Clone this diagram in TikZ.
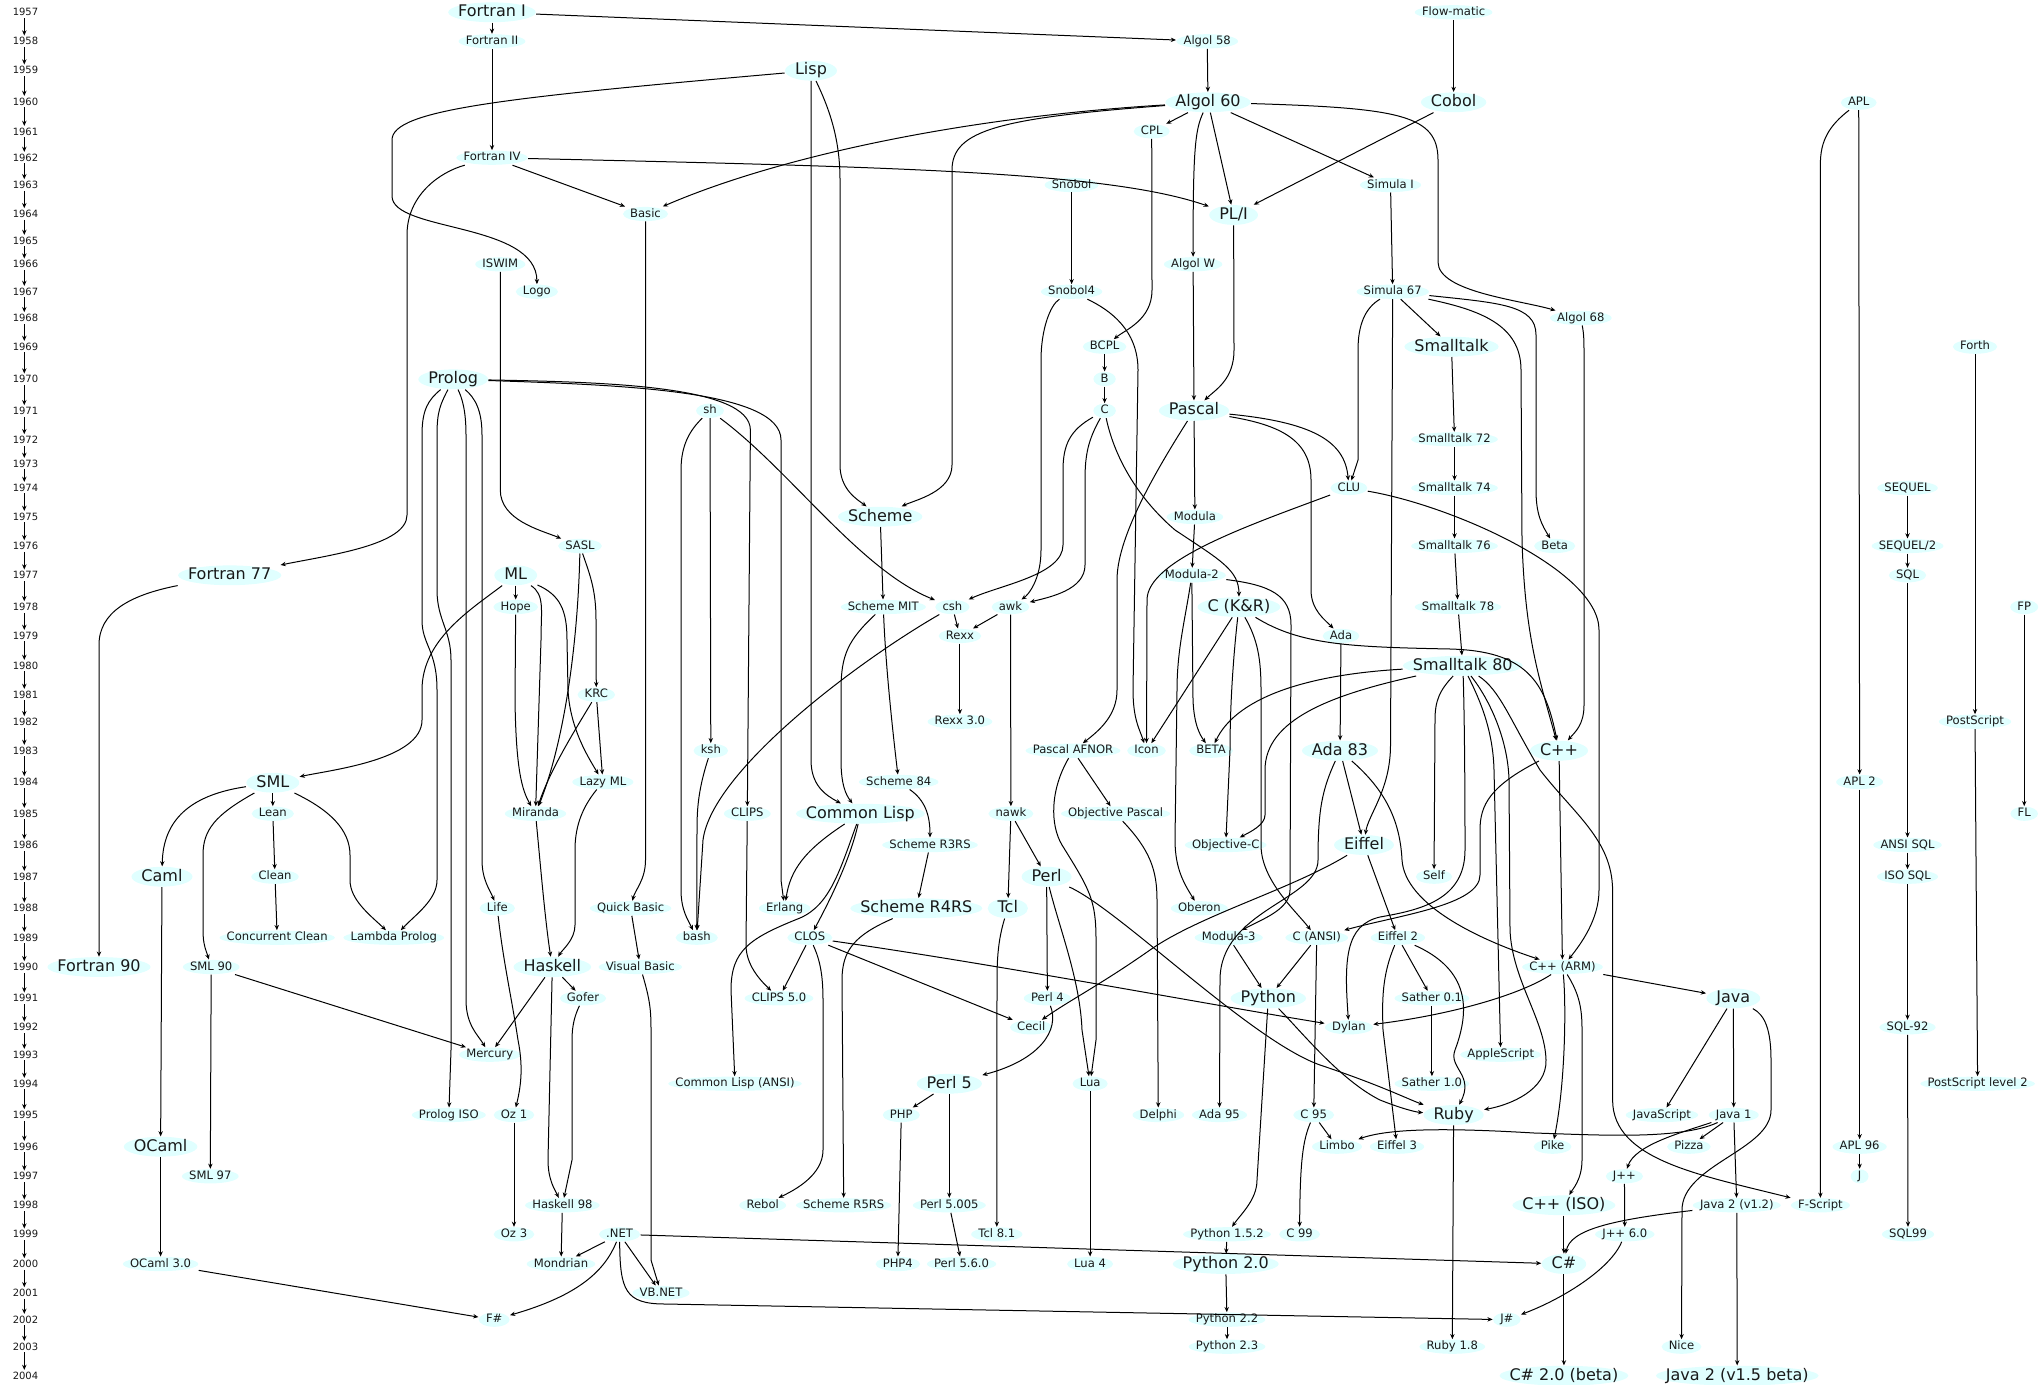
\documentclass[tikz,border=0pt]{standalone}
\usepackage{fontspec}
\setmainfont{DejaVu Sans}
\usetikzlibrary{arrows.meta,calc}
\definecolor{nodefill}{RGB}{224,255,255}
\definecolor{ink}{RGB}{25,25,25}

\tikzset{
  lang/.style={rectangle, text=ink,
    path picture={\fill[nodefill] let \p1=(path picture bounding box.south west),
      \p2=(path picture bounding box.north east) in
      (path picture bounding box.center) ellipse [x radius={(\x2-\x1)/2}, y radius={(\y2-\y1)/2}];}},
  sm/.style={lang, font=\fontsize{5.8}{7}\selectfont, text height=4.3pt, text depth=1.2pt,
    inner xsep=3.6pt, inner ysep=0.8pt},
  lg/.style={lang, font=\fontsize{8}{9.6}\selectfont, text height=6pt, text depth=1.7pt,
    inner xsep=5pt, inner ysep=1.1pt},
  yr/.style={font=\fontsize{5}{6}\selectfont, text=ink, inner sep=0.8pt},
  e/.style={draw=black, line width=0.5pt, -{Stealth[length=2.6pt,width=2.2pt]}},
}

\begin{document}
\begin{tikzpicture}[x=0.5pt,y=-0.5pt]
\fill[white] (0,0) rectangle (2043,1385);
\useasboundingbox (0,0) rectangle (2043,1385);

% ---------- time axis ----------
\foreach \yr/\yy in {1957/12.3,1958/41.3,1959/70.3,1960/101.7,1961/131.7,1962/157.7,
  1963/185,1964/214,1965/240.7,1966/264.3,1967/291.7,1968/318,1969/346.7,1970/379.3,
  1971/411,1972/440,1973/463.7,1974/487.7,1975/516.7,1976/546,1977/575.3,1978/607,
  1979/635.7,1980/665.7,1981/694.7,1982/722,1983/750.7,1984/782,1985/813.7,1986/845,
  1987/876.7,1988/908.3,1989/937.7,1990/967,1991/998.3,1992/1027.3,1993/1054.7,
  1994/1083.7,1995/1115,1996/1146.7,1997/1176.3,1998/1205.3,1999/1234.3,2000/1264,
  2001/1293,2002/1319.7,2003/1346.7,2004/1375.7}
  \node[yr] (y\yr) at (25.5,\yy) {\yr};
\foreach \yr in {1957,...,2003}{
  \pgfmathtruncatemacro{\nx}{\yr+1}
  \draw[e] ([xshift=-0.6pt]y\yr.south) -- ([xshift=-0.6pt]y\nx.north);
}

% ---------- languages ----------
\node[lg] (fortI) at (492,12.3) {Fortran I};
\node[sm] (flowmatic) at (1453.6,12.3) {Flow-matic};
\node[sm] (fortII) at (492,41.3) {Fortran II};
\node[sm] (algol58) at (1207.2,41.3) {Algol 58};
\node[lg] (lisp) at (811,70.7) {Lisp};
\node[lg] (algol60) at (1208,102.3) {Algol 60};
\node[lg] (cobol) at (1453.6,102.3) {Cobol};
\node[sm] (apl) at (1858.7,102.7) {APL};
\node[sm] (cpl) at (1151.7,131.3) {CPL};
\node[sm] (fortIV) at (492,157.7) {Fortran IV};
\node[sm] (snobol) at (1071.6,185) {Snobol};
\node[sm] (simulaI) at (1390.5,185) {Simula I};
\node[sm] (basic) at (645.5,214) {Basic};
\node[lg] (pli) at (1233.6,215) {PL/I};
\node[sm] (iswim) at (500.3,264.3) {ISWIM};
\node[sm] (algolw) at (1193.1,264.3) {Algol W};
\node[sm] (logo) at (536.9,291.7) {Logo};
\node[sm] (snobolIV) at (1071.6,291.7) {Snobol4};
\node[sm] (simula67) at (1392.7,291.7) {Simula 67};
\node[sm] (algol68) at (1580.8,318) {Algol 68};
\node[sm] (bcpl) at (1104.6,346.7) {BCPL};
\node[lg] (smalltalk) at (1451.5,346.7) {Smalltalk};
\node[sm] (forth) at (1975,346.7) {Forth};
\node[lg] (prolog) at (453.2,379.3) {Prolog};
\node[sm] (B) at (1104.6,379) {B};
\node[sm] (sh) at (710,410.7) {sh};
\node[sm] (C) at (1104.6,410.7) {C};
\node[lg] (pascal) at (1194,410.7) {Pascal};
\node[sm] (st72) at (1454.5,439.3) {Smalltalk 72};
\node[sm] (clu) at (1348.9,488) {CLU};
\node[sm] (st74) at (1454.5,488) {Smalltalk 74};
\node[sm] (sequel) at (1907.5,488) {SEQUEL};
\node[lg] (scheme) at (880.2,516.7) {Scheme};
\node[sm] (modula) at (1194.9,517) {Modula};
\node[sm] (sasl) at (580,546) {SASL};
\node[sm] (st76) at (1454.5,546) {Smalltalk 76};
\node[sm] (beta) at (1554.7,546) {Beta};
\node[sm] (sequel2) at (1907.5,546) {SEQUEL/2};
\node[lg] (fort77) at (229.7,575.3) {Fortran 77};
\node[lg] (ml) at (515.7,575.3) {ML};
\node[sm] (modula2) at (1191.8,575.3) {Modula-2};
\node[sm] (sql) at (1907.5,575.3) {SQL};
\node[sm] (hope) at (515.7,607) {Hope};
\node[sm] (schememit) at (883.3,607) {Scheme MIT};
\node[sm] (csh) at (952.4,607) {csh};
\node[sm] (awk) at (1010.5,607) {awk};
\node[lg] (ckr) at (1238.9,607) {C (K\&R)};
\node[sm] (st78) at (1458,607) {Smalltalk 78};
\node[sm] (fp) at (2024.2,607) {FP};
\node[sm] (rexx) at (959.9,636) {Rexx};
\node[sm] (ada) at (1341,636) {Ada};
\node[lg] (st80) at (1462.8,665.7) {Smalltalk 80};
\node[sm] (krc) at (596.3,694.7) {KRC};
\node[sm] (rexx30) at (959.9,721.7) {Rexx 3.0};
\node[sm] (postscript) at (1975,721.7) {PostScript};
\node[sm] (ksh) at (710.8,750.7) {ksh};
\node[sm] (pascalafnor) at (1073,750.7) {Pascal AFNOR};
\node[sm] (icon) at (1146.5,750.7) {Icon};
\node[sm] (betaB) at (1211.1,750.7) {BETA};
\node[lg] (ada83) at (1340,750.7) {Ada 83};
\node[lg] (cpp) at (1559,750.7) {C++};
\node[lg] (sml) at (272.8,782.7) {SML};
\node[sm] (lazyml) at (602.9,782) {Lazy ML};
\node[sm] (scheme84) at (898.7,782) {Scheme 84};
\node[sm] (apl2) at (1859.6,782) {APL 2};
\node[sm] (lean) at (272.8,813.7) {Lean};
\node[sm] (miranda) at (535.5,813.7) {Miranda};
\node[sm] (clips) at (747.3,813.7) {CLIPS};
\node[lg] (commonlisp) at (860.4,813.7) {Common Lisp};
\node[sm] (nawk) at (1010.9,813.7) {nawk};
\node[sm] (objpascal) at (1115.6,813.7) {Objective Pascal};
\node[sm] (fl) at (2024.2,813.7) {FL};
\node[sm] (r3rs) at (930,845) {Scheme R3RS};
\node[sm] (objc) at (1225.7,845) {Objective-C};
\node[lg] (eiffel) at (1364,845) {Eiffel};
\node[sm] (ansisql) at (1907.5,845) {ANSI SQL};
\node[lg] (caml) at (162,876.7) {Caml};
\node[sm] (clean) at (275,876.7) {Clean};
\node[lg] (perl) at (1046.6,876.7) {Perl};
\node[sm] (self) at (1434,876.7) {Self};
\node[sm] (isosql) at (1907.5,876.7) {ISO SQL};
\node[sm] (life) at (497.3,908.3) {Life};
\node[sm] (quickbasic) at (630.6,908.3) {Quick Basic};
\node[sm] (erlang) at (784.7,908.3) {Erlang};
\node[lg] (r4rs) at (916.3,908.3) {Scheme R4RS};
\node[lg] (tcl) at (1007.8,908.3) {Tcl};
\node[sm] (oberon) at (1199.3,908.3) {Oberon};
\node[sm] (cclean) at (277.2,937.7) {Concurrent Clean};
\node[sm] (lprolog) at (393.8,937.7) {Lambda Prolog};
\node[sm] (bash) at (696.7,937.7) {bash};
\node[sm] (clos) at (809.8,937.7) {CLOS};
\node[sm] (modula3) at (1228.7,937.7) {Modula-3};
\node[sm] (cansi) at (1316.7,937.7) {C (ANSI)};
\node[sm] (eiffel2) at (1397.9,937.7) {Eiffel 2};
\node[lg] (fort90) at (99,967) {Fortran 90};
\node[sm] (sml90) at (211.2,967) {SML 90};
\node[lg] (haskell) at (552.3,967) {Haskell};
\node[sm] (visualbasic) at (640.3,967) {Visual Basic};
\node[sm] (cpparm) at (1562.5,967) {C++ (ARM)};
\node[sm] (gofer) at (583,998.3) {Gofer};
\node[sm] (clips50) at (779,998.3) {CLIPS 5.0};
\node[sm] (perl4) at (1047.4,998.3) {Perl 4};
\node[lg] (python) at (1268.3,998.3) {Python};
\node[sm] (sather01) at (1431.9,998.3) {Sather 0.1};
\node[lg] (java) at (1733.3,998.3) {Java};
\node[sm] (cecil) at (1031.2,1027.3) {Cecil};
\node[sm] (dylan) at (1348.9,1027.3) {Dylan};
\node[sm] (sql92) at (1907.5,1027.3) {SQL-92};
\node[sm] (mercury) at (489.8,1054.7) {Mercury};
\node[sm] (applescript) at (1500.7,1054.7) {AppleScript};
\node[sm] (clansi) at (735,1083.7) {Common Lisp (ANSI)};
\node[lg] (perl5) at (949.3,1083.7) {Perl 5};
\node[sm] (lua) at (1090.1,1083.7) {Lua};
\node[sm] (sather10) at (1431.9,1083.7) {Sather 1.0};
\node[sm] (ps2) at (1977.6,1083.7) {PostScript level 2};
\node[sm] (prologiso) at (448.8,1115) {Prolog ISO};
\node[sm] (oz1) at (514,1115) {Oz 1};
\node[sm] (php) at (901.3,1115) {PHP};
\node[sm] (delphi) at (1158.3,1115) {Delphi};
\node[sm] (ada95) at (1219.5,1115) {Ada 95};
\node[sm] (c95) at (1313.7,1115) {C 95};
\node[lg] (ruby) at (1453.6,1115) {Ruby};
\node[sm] (javascript) at (1661.9,1115) {JavaScript};
\node[sm] (java1) at (1733.7,1115) {Java 1};
\node[lg] (ocaml) at (160.6,1146.7) {OCaml};
\node[sm] (limbo) at (1337,1146.7) {Limbo};
\node[sm] (eiffel3) at (1397,1146.7) {Eiffel 3};
\node[sm] (pike) at (1552.5,1146.7) {Pike};
\node[sm] (pizza) at (1688.9,1146.7) {Pizza};
\node[sm] (apl96) at (1859.6,1146.7) {APL 96};
\node[sm] (sml97) at (210.3,1176.3) {SML 97};
\node[sm] (jpp) at (1624.4,1176.3) {J++};
\node[sm] (jlang) at (1859.6,1176.3) {J};
\node[sm] (haskell98) at (562.4,1205.3) {Haskell 98};
\node[sm] (rebol) at (762.7,1205.3) {Rebol};
\node[sm] (r5rs) at (843.7,1205.3) {Scheme R5RS};
\node[sm] (perl5005) at (949.3,1205.3) {Perl 5.005};
\node[lg] (cppiso) at (1563.9,1205.3) {C++ (ISO)};
\node[sm] (java2) at (1736.8,1205.3) {Java 2 (v1.2)};
\node[sm] (fscript) at (1820.4,1205.3) {F-Script};
\node[sm] (oz3) at (514,1234.3) {Oz 3};
\node[sm] (dotnet) at (619.6,1234.3) {.NET};
\node[sm] (tcl81) at (996.8,1234.3) {Tcl 8.1};
\node[sm] (python152) at (1227,1234.3) {Python 1.5.2};
\node[sm] (c99) at (1299.6,1234.3) {C 99};
\node[sm] (jpp60) at (1624.8,1234.3) {J++ 6.0};
\node[sm] (sql99) at (1908,1234.3) {SQL99};
\node[sm] (ocaml30) at (160.6,1264) {OCaml 3.0};
\node[sm] (mondrian) at (561,1264) {Mondrian};
\node[sm] (php4) at (897.8,1264) {PHP4};
\node[sm] (perl560) at (961.6,1264) {Perl 5.6.0};
\node[sm] (lua4) at (1090.1,1264) {Lua 4};
\node[lg] (python20) at (1225.7,1264) {Python 2.0};
\node[lg] (csharp) at (1563.9,1264) {C\#};
\node[sm] (vbnet) at (661,1293) {VB.NET};
\node[sm] (fsharp) at (494.2,1319.7) {F\#};
\node[sm] (python22) at (1227,1319.7) {Python 2.2};
\node[sm] (jsharp) at (1506.8,1319.7) {J\#};
\node[sm] (python23) at (1227,1346.7) {Python 2.3};
\node[sm] (ruby18) at (1452.3,1346.7) {Ruby 1.8};
\node[sm] (nice) at (1681.5,1346.7) {Nice};
\node[lg] (csharp20) at (1563.9,1375.7) {C\# 2.0 (beta)};
\node[lg] (java15) at (1737.2,1375.7) {Java 2 (v1.5 beta)};

% ---------- influences ----------
\draw[e] (fortI) -- (fortII);
\draw[e] (fortI) -- (algol58);
\draw[e] (fortII) -- (fortIV);
\draw[e] (fortIV) -- (basic);
\draw[e] (fortIV) .. controls (900,167) and (1110,172) .. (pli);
\draw[e] (fortIV) .. controls (440,172) and (407,195) .. (407,235) -- (407,515) .. controls (407,545) and (330,555) .. (fort77);
\draw[e] (fort77) .. controls (130,595) and (99,612) .. (99,645) -- (fort90);
\draw[e] (flowmatic) -- (cobol);
\draw[e] (cobol) -- (pli);
\draw[e] (algol58) -- (algol60);
\draw[e] (lisp) .. controls (500,98) and (392,110) .. (392,140) -- (392,196) .. controls (392,232) and (537,222) .. (logo);
\draw[e] (algol60) .. controls (950,118) and (770,160) .. (basic);
\draw[e] (algol60) .. controls (1000,118) and (952,130) .. (952,170) -- (952,465) .. controls (952,492) and (915,500) .. (scheme);
\draw[e] (lisp) .. controls (830,110) and (840,140) .. (840,180) -- (840,465) .. controls (840,490) and (858,500) .. (scheme);
\draw[e] (lisp) -- (811,760) .. controls (811,785) and (825,795) .. (commonlisp);
\draw[e] (algol60) -- (cpl);
\draw[e] (algol60) .. controls (1195,130) and (1193,150) .. (algolw);
\draw[e] (algol60) -- (pli);
\draw[e] (algol60) -- (simulaI);
\draw[e] (algol60) .. controls (1400,108) and (1438,115) .. (1438,160) -- (1438,262) .. controls (1438,292) and (1520,300) .. (algol68);
\draw[e] (cpl) -- (1152,290) .. controls (1152,320) and (1125,330) .. (bcpl);
\draw[e] (snobol) -- (snobolIV);
\draw[e] (snobolIV) .. controls (1050,305) and (1041,330) .. (1041,360) -- (1041,550) .. controls (1041,580) and (1028,595) .. (awk);
\draw[e] (snobolIV) .. controls (1110,310) and (1138,330) .. (1138,370) -- (1133,690) .. controls (1133,720) and (1140,730) .. (icon);
\draw[e] (algolw) -- (pascal);
\draw[e] (pli) -- (1234,350) .. controls (1234,380) and (1215,390) .. (pascal);
\draw[e] (simulaI) -- (simula67);
\draw[e] (simula67) -- (smalltalk);
\draw[e] (simula67) .. controls (1365,308) and (1358,325) .. (1358,350) -- (1358,460) -- (clu);
\draw[e] (simula67) -- (1390.5,745) .. controls (1390.5,790) and (1368,815) .. (eiffel);
\draw[e] (simula67) .. controls (1480,310) and (1521,325) .. (1521,370) -- (1522,540) .. controls (1525,640) and (1540,680) .. (cpp);
\draw[e] (simula67) .. controls (1500,303) and (1536,305) .. (1536,335) -- (1536,490) .. controls (1536,515) and (1542,525) .. (beta);
\draw[e] (algol68) .. controls (1584,335) and (1584,340) .. (1584,360) -- (1584,705) .. controls (1584,725) and (1575,732) .. (cpp);
\draw[e] (apl) -- (apl2);
\draw[e] (apl) .. controls (1830,125) and (1820,140) .. (1820.4,165) -- (fscript);
\draw[e] (apl2) -- (apl96);
\draw[e] (apl96) -- (jlang);
\draw[e] (forth) -- (postscript);
\draw[e] (postscript) -- (ps2);
\draw[e] (sequel) -- (sequel2);
\draw[e] (sequel2) -- (sql);
\draw[e] (sql) -- (ansisql);
\draw[e] (ansisql) -- (isosql);
\draw[e] (isosql) -- (sql92);
\draw[e] (sql92) -- (sql99);
\draw[e] (fp) -- (fl);
\draw[e] (smalltalk) -- (st72);
\draw[e] (st72) -- (st74);
\draw[e] (st74) -- (st76);
\draw[e] (st76) -- (st78);
\draw[e] (st78) -- (st80);

% logic and functional languages
\draw[e] (prolog) .. controls (428,400) and (422,410) .. (422,435) -- (422,620) .. controls (422,645) and (437,650) .. (437,690) -- (437,880) .. controls (437,900) and (415,915) .. (lprolog);
\draw[e] (prolog) .. controls (440,405) and (437,412) .. (437,435) -- (437,590) .. controls (437,620) and (451,630) .. (451,660) -- (451,1050) -- (prologiso);
\draw[e] (prolog) .. controls (462,398) and (466,410) .. (466,435) -- (466,1000) .. controls (466,1025) and (478,1035) .. (mercury);
\draw[e] (prolog) .. controls (475,398) and (482,410) .. (482,435) -- (482,860) .. controls (482,880) and (490,890) .. (life);
\draw[e] (prolog) .. controls (600,382) and (750,385) .. (750.4,430) -- (clips);
\draw[e] (prolog) .. controls (620,385) and (781,390) .. (781,440) -- (781,880) -- (erlang);
\draw[e] (iswim) -- (500.3,490) .. controls (500.3,520) and (540,530) .. (sasl);
\draw[e] (sasl) .. controls (590,575) and (596,590) .. (596,620) -- (krc);
\draw[e] (sasl) .. controls (578,640) and (565,740) .. (miranda);
\draw[e] (krc) .. controls (575,730) and (550,770) .. (miranda);
\draw[e] (krc) -- (lazyml);
\draw[e] (ml) .. controls (560,595) and (567,610) .. (567,640) -- (568,690) .. controls (570,730) and (590,760) .. (lazyml);
\draw[e] (ml) .. controls (545,595) and (541,610) .. (541,640) -- (miranda);
\draw[e] (ml) -- (hope);
\draw[e] (hope) -- (515,700) .. controls (516,770) and (522,790) .. (miranda);
\draw[e] (ml) .. controls (470,610) and (422,640) .. (422,690) -- (422,720) .. controls (422,760) and (330,770) .. (sml);
\draw[e] (sml) .. controls (190,795) and (163,820) .. (caml);
\draw[e] (sml) .. controls (215,815) and (203,830) .. (203,855) -- (203,930) .. controls (203,945) and (206,950) .. (sml90);
\draw[e] (sml) -- (lean);
\draw[e] (lean) -- (clean);
\draw[e] (clean) -- (cclean);
\draw[e] (sml) .. controls (330,810) and (350,830) .. (350,855) -- (350,880) .. controls (350,900) and (370,915) .. (lprolog);
\draw[e] (caml) -- (ocaml);
\draw[e] (ocaml) -- (ocaml30);
\draw[e] (sml90) -- (sml97);
\draw[e] (sml90) -- (mercury);
\draw[e] (lazyml) .. controls (580,810) and (575,830) .. (575,850) -- (575,925) .. controls (575,940) and (562,950) .. (haskell);
\draw[e] (miranda) .. controls (540,860) and (545,920) .. (haskell);
\draw[e] (haskell) -- (gofer);
\draw[e] (haskell) -- (mercury);
\draw[e] (haskell) -- (548,1160) .. controls (548,1180) and (555,1190) .. (haskell98);
\draw[e] (gofer) .. controls (575,1015) and (572,1025) .. (572,1040) -- (572,1160) -- (haskell98);
\draw[e] (life) .. controls (503,960) and (512,1000) .. (518,1040) .. controls (524,1070) and (520,1090) .. (oz1);
\draw[e] (oz1) -- (oz3);
\draw[e] (haskell98) -- (mondrian);
\draw[e] (dotnet) -- (mondrian);
\draw[e] (dotnet) .. controls (605,1270) and (580,1295) .. (fsharp);
\draw[e] (ocaml30) -- (fsharp);
\draw[e] (dotnet) -- (vbnet);
\draw[e] (visualbasic) .. controls (650,1000) and (651,1010) .. (651,1030) -- (651,1260) -- (vbnet);
\draw[e] (quickbasic) -- (visualbasic);
\draw[e] (basic) -- (645.5,860) .. controls (645.5,880) and (635,890) .. (quickbasic);
\draw[e] (dotnet) -- (csharp);
\draw[e] (dotnet) .. controls (620,1290) and (625,1304) .. (665,1304) -- (jsharp);

% systems and scripting languages
\draw[e] (bcpl) -- (B);
\draw[e] (B) -- (C);
\draw[e] (sh) -- (ksh);
\draw[e] (sh) .. controls (690,430) and (681,445) .. (681,470) -- (681,890) .. controls (681,910) and (688,920) .. (bash);
\draw[e] (ksh) .. controls (698,790) and (697,810) .. (697,830) -- (bash);
\draw[e] (csh) .. controls (860,660) and (712,770) .. (703,840) -- (bash);
\draw[e] (sh) .. controls (790,470) and (860,570) .. (csh);
\draw[e] (C) .. controls (1070,430) and (1063,445) .. (1063,470) -- (1063,545) .. controls (1063,575) and (1000,585) .. (csh);
\draw[e] (C) .. controls (1088,440) and (1085,455) .. (1085,480) -- (1085,565) .. controls (1085,590) and (1050,597) .. (awk);
\draw[e] (C) .. controls (1115,460) and (1140,500) .. (1175,530) .. controls (1220,560) and (1239,570) .. (ckr);
\draw[e] (pascal) .. controls (1150,480) and (1117,540) .. (1117,580) -- (1117,690) .. controls (1117,715) and (1100,730) .. (pascalafnor);
\draw[e] (pascal) -- (modula);
\draw[e] (modula) -- (modula2);
\draw[e] (pascal) .. controls (1280,425) and (1311,440) .. (1311,480) -- (1311,590) .. controls (1311,610) and (1325,620) .. (ada);
\draw[e] (pascal) .. controls (1310,422) and (1345,440) .. (clu);
\draw[e] (clu) .. controls (1250,525) and (1147,560) .. (1147,600) -- (icon);
\draw[e] (clu) .. controls (1450,505) and (1599,570) .. (1599,630) -- (1599,890) .. controls (1599,920) and (1580,945) .. (cpparm);
\draw[e] (ckr) .. controls (1300,645) and (1350,647) .. (1450,649) .. controls (1525,651) and (1545,680) .. (cpp);
\draw[e] (ckr) -- (icon);
\draw[e] (modula2) -- (1193,700) .. controls (1194,725) and (1200,735) .. (betaB);
\draw[e] (modula2) .. controls (1185,620) and (1177,650) .. (1177,690) -- (1175,840) .. controls (1175,870) and (1185,885) .. (oberon);
\draw[e] (modula2) .. controls (1270,585) and (1291,595) .. (1291,625) -- (1290,890) .. controls (1290,910) and (1260,920) .. (modula3);
\draw[e] (ckr) .. controls (1234,650) and (1230,700) .. (1230,750) -- (objc);
\draw[e] (ckr) .. controls (1258,640) and (1261,660) .. (1261,690) -- (1261,845) .. controls (1261,880) and (1295,910) .. (cansi);
\draw[e] (st80) .. controls (1330,695) and (1265,720) .. (1265,770) -- (1265,815) .. controls (1265,825) and (1250,832) .. (objc);
\draw[e] (st80) .. controls (1300,675) and (1235,700) .. (betaB);
\draw[e] (st80) .. controls (1440,690) and (1435,700) .. (1435,720) -- (self);
\draw[e] (st80) .. controls (1464,700) and (1465,760) .. (1465,850) .. controls (1465,900) and (1420,910) .. (1380,917) .. controls (1345,925) and (1344,960) .. (dylan);
\draw[e] (st80) .. controls (1480,700) and (1493,730) .. (1494,770) -- (applescript);
\draw[e] (st80) .. controls (1490,700) and (1508,740) .. (1509,780) -- (1510,930) .. controls (1512,980) and (1545,1020) .. (1546,1060) .. controls (1547,1090) and (1510,1105) .. (ruby);
\draw[e] (st80) .. controls (1500,690) and (1510,720) .. (1540,770) .. controls (1575,815) and (1612,840) .. (1612.6,890) -- (1612.6,1100) .. controls (1612.6,1160) and (1700,1175) .. (fscript);
\draw[e] (ada) -- (ada83);
\draw[e] (ada83) .. controls (1322,790) and (1318,810) .. (1318,860) .. controls (1318,900) and (1220,910) .. (1220,980) -- (ada95);
\draw[e] (ada83) -- (eiffel);
\draw[e] (ada83) .. controls (1385,790) and (1400,820) .. (1402,860) .. controls (1405,905) and (1480,940) .. (cpparm);
\draw[e] (eiffel) -- (eiffel2);
\draw[e] (eiffel) .. controls (1290,890) and (1200,915) .. (1150,950) .. controls (1100,985) and (1070,1000) .. (cecil);
\draw[e] (cpp) -- (cpparm);
\draw[e] (cpp) .. controls (1490,786) and (1480,805) .. (1480,830) -- (1480,875) .. controls (1480,905) and (1400,915) .. (cansi);
\draw[e] (eiffel2) -- (sather01);
\draw[e] (sather01) -- (sather10);
\draw[e] (eiffel2) .. controls (1382,975) and (1382,1000) .. (1383,1030) -- (eiffel3);
\draw[e] (eiffel2) .. controls (1470,970) and (1470,1010) .. (1455,1050) .. controls (1448,1068) and (1475,1075) .. (ruby);
\draw[e] (cpparm) -- (java);
\draw[e] (cpparm) .. controls (1520,995) and (1450,1015) .. (dylan);
\draw[e] (cpparm) .. controls (1566,1000) and (1566,1080) .. (pike);
\draw[e] (cpparm) .. controls (1580,995) and (1582,1010) .. (1582,1030) -- (1582,1160) .. controls (1582,1180) and (1572,1190) .. (cppiso);
\draw[e] (clos) -- (clips50);
\draw[e] (clips) -- (746,945) .. controls (746,965) and (760,980) .. (clips50);
\draw[e] (clos) -- (cecil);
\draw[e] (clos) .. controls (1000,965) and (1200,1003) .. (dylan);
\draw[e] (clos) .. controls (820,960) and (823,975) .. (823,1000) -- (823,1150) .. controls (823,1175) and (795,1190) .. (rebol);
\draw[e] (commonlisp) .. controls (850,860) and (830,900) .. (clos);
\draw[e] (commonlisp) .. controls (805,850) and (790,870) .. (erlang);
\draw[e] (commonlisp) .. controls (840,870) and (830,905) .. (800,918) .. controls (750,938) and (731,950) .. (731,990) -- (clansi);
\draw[e] (schememit) .. controls (848,640) and (841,655) .. (841,690) -- (841,760) .. controls (841,785) and (846,795) .. (commonlisp);
\draw[e] (schememit) .. controls (885,650) and (889,700) .. (scheme84);
\draw[e] (scheme) -- (schememit);
\draw[e] (scheme84) .. controls (925,800) and (930,815) .. (r3rs);
\draw[e] (r3rs) -- (r4rs);
\draw[e] (r4rs) .. controls (855,935) and (842,950) .. (842,980) -- (r5rs);
\draw[e] (csh) -- (rexx);
\draw[e] (awk) -- (rexx);
\draw[e] (rexx) -- (rexx30);
\draw[e] (awk) -- (nawk);
\draw[e] (nawk) -- (perl);
\draw[e] (nawk) -- (tcl);
\draw[e] (perl) -- (perl4);
\draw[e] (perl) .. controls (1060,930) and (1080,980) .. (1082,1030) -- (lua);
\draw[e] (pascalafnor) .. controls (1050,790) and (1050,825) .. (1062,845) .. controls (1090,890) and (1096,900) .. (1096,940) -- (1096,1040) -- (lua);
\draw[e] (pascalafnor) -- (objpascal);
\draw[e] (objpascal) .. controls (1150,850) and (1157,870) .. (1157,900) -- (delphi);
\draw[e] (perl) .. controls (1120,910) and (1250,1040) .. (1320,1065) .. controls (1380,1085) and (1410,1100) .. (ruby);
\draw[e] (python) .. controls (1300,1030) and (1340,1080) .. (1380,1100) .. controls (1400,1108) and (1415,1112) .. (ruby);
\draw[e] (modula3) -- (python);
\draw[e] (cansi) -- (python);
\draw[e] (cansi) -- (c95);
\draw[e] (python) -- (1257,1180) .. controls (1257,1200) and (1240,1215) .. (python152);
\draw[e] (c95) -- (limbo);
\draw[e] (c95) .. controls (1303,1140) and (1300,1160) .. (c99);
\draw[e] (java1) .. controls (1680,1140) and (1600,1135) .. (1534,1133) .. controls (1450,1128) and (1390,1128) .. (limbo);
\draw[e] (java) -- (javascript);
\draw[e] (java) -- (java1);
\draw[e] (java) .. controls (1765,1015) and (1771,1030) .. (1771,1060) -- (1771,1110) .. controls (1771,1150) and (1682,1165) .. (1682,1210) -- (nice);
\draw[e] (java1) -- (pizza);
\draw[e] (java1) .. controls (1680,1133) and (1635,1145) .. (jpp);
\draw[e] (java1) -- (java2);
\draw[e] (java2) -- (java15);
\draw[e] (java2) .. controls (1610,1220) and (1570,1230) .. (csharp);
\draw[e] (jpp) -- (jpp60);
\draw[e] (jpp60) .. controls (1610,1270) and (1560,1300) .. (jsharp);
\draw[e] (cppiso) -- (csharp);
\draw[e] (csharp) -- (csharp20);
\draw[e] (ruby) -- (ruby18);
\draw[e] (perl4) .. controls (1060,1030) and (1040,1060) .. (perl5);
\draw[e] (perl5) -- (php);
\draw[e] (perl5) -- (perl5005);
\draw[e] (perl5005) -- (perl560);
\draw[e] (php) -- (php4);
\draw[e] (tcl) .. controls (998,940) and (997,960) .. (997,980) -- (tcl81);
\draw[e] (lua) -- (lua4);
\draw[e] (python152) -- (python20);
\draw[e] (python20) -- (python22);
\draw[e] (python22) -- (python23);
\end{tikzpicture}
\end{document}
